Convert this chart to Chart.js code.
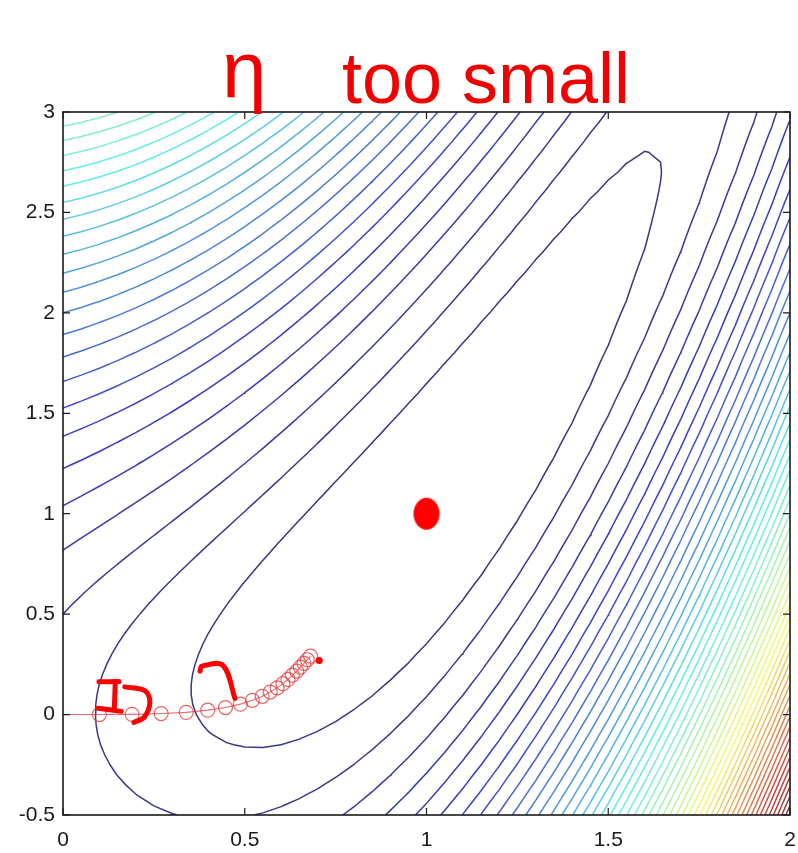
<!DOCTYPE html>
<html>
<head>
<meta charset="utf-8">
<script src="https://cdn.jsdelivr.net/npm/chart.js@4.4.1/dist/chart.umd.min.js"></script>
<style>
  html, body { margin: 0; padding: 0; background: #ffffff; overflow: hidden; }
  #wrap { width: 798px; height: 853px; overflow: hidden; }
  #chart { display: block; }
</style>
</head>
<body>
<div id="wrap"><canvas id="chart" width="798" height="853"></canvas></div>
<script>
// ---- axes ----
const xRange = [0, 2];
const yRange = [-0.5, 3];
const xTicks = [0, 0.5, 1, 1.5, 2];
const yTicks = [-0.5, 0, 0.5, 1, 1.5, 2, 2.5, 3];

// ---- contour levels of the banana surface (evenly spaced) ----
const levels = [0.42, 0.83, 1.25, 1.67, 2.08, 2.5, 2.92, 3.33, 3.75, 4.17,
                4.58, 5, 5.42, 5.83, 6.25, 6.67, 7.08, 7.5, 7.92, 8.33,
                8.75, 9.17, 9.58, 10, 10.42, 10.83, 11.25, 11.67, 12.08, 12.5,
                12.92, 13.33, 13.75, 14.17, 14.58, 15, 15.42, 15.83, 16.25, 16.67,
                17.08, 17.5, 17.92, 18.33, 18.75, 19.17, 19.58, 20, 20.42, 20.83];
const colorRange = [0, 21.25];

// ---- gradient-descent iterates (small step size) ----
const pathX = [0, 0.1, 0.19, 0.27, 0.339, 0.398, 0.447, 0.488, 0.521, 0.548,
               0.570, 0.589, 0.605, 0.619, 0.631, 0.643, 0.653, 0.663, 0.672, 0.681];
const pathY = [0, 0, 0.001, 0.005, 0.011, 0.022, 0.035, 0.052, 0.071, 0.091,
               0.112, 0.133, 0.154, 0.175, 0.196, 0.216, 0.236, 0.255, 0.273, 0.291];

// ---- the minimum ----
const minimumPoint = [1, 1];

// ---- hand-written ink marks near the path ----
const inkStrokes = [
  [[0.099, 0.163], [0.154, 0.165]],
  [[0.144, 0.165], [0.141, 0.029]],
  [[0.096, 0.031], [0.16, 0.016]],
  [[0.17, 0.138], [0.226, 0.118], [0.239, 0.061], [0.223, -0.014], [0.195, -0.039]],
  [[0.377, 0.216], [0.382, 0.241], [0.44, 0.245], [0.473, 0.081]]
];
const inkDot = [0.705, 0.269];

// ---- heading ----
const headingSymbol = 'η';
const headingText = 'too small';

// ---- sampling grid for the surface ----
const gridStep = 0.05;
const gx = [], gy = [];
for (let i = 0; i <= Math.round((xRange[1] - xRange[0]) / gridStep); i++) gx.push(+(xRange[0] + i * gridStep).toFixed(4));
for (let j = 0; j <= Math.round((yRange[1] - yRange[0]) / gridStep); j++) gy.push(+(yRange[0] + j * gridStep).toFixed(4));
const banana = (x, y) => (1 - x) ** 2 + (y - x * x) ** 2;
const Z = gy.map(y => gx.map(x => banana(x, y)));

// marching squares: returns polylines ({x,y} arrays) for one level
function isolines(level) {
  const pts = new Map(), adj = new Map();
  const cross = (key, x0, y0, z0, x1, y1, z1) => {
    if (!pts.has(key)) {
      const t = (level - z0) / (z1 - z0);
      pts.set(key, { x: x0 + t * (x1 - x0), y: y0 + t * (y1 - y0) });
    }
    return key;
  };
  const link = (a, b) => {
    if (!adj.has(a)) adj.set(a, []);
    if (!adj.has(b)) adj.set(b, []);
    adj.get(a).push(b); adj.get(b).push(a);
  };
  for (let j = 0; j < gy.length - 1; j++) {
    for (let i = 0; i < gx.length - 1; i++) {
      const x0 = gx[i], x1 = gx[i + 1], y0 = gy[j], y1 = gy[j + 1];
      const a = Z[j][i], b = Z[j][i + 1], c = Z[j + 1][i + 1], d = Z[j + 1][i];
      const ia = a < level, ib = b < level, ic = c < level, id = d < level;
      const B = ia !== ib ? cross(`h${i},${j}`, x0, y0, a, x1, y0, b) : null;
      const R = ib !== ic ? cross(`v${i + 1},${j}`, x1, y0, b, x1, y1, c) : null;
      const T = id !== ic ? cross(`h${i},${j + 1}`, x0, y1, d, x1, y1, c) : null;
      const L = ia !== id ? cross(`v${i},${j}`, x0, y0, a, x0, y1, d) : null;
      const list = [B, R, T, L].filter(k => k !== null);
      if (list.length === 2) link(list[0], list[1]);
      else if (list.length === 4) {
        const centerLow = (a + b + c + d) / 4 < level;
        if (centerLow === ia) { link(B, R); link(T, L); }
        else { link(B, L); link(T, R); }
      }
    }
  }
  const used = new Set(), lines = [];
  const walk = start => {
    const seq = [start]; used.add(start);
    let cur = start;
    for (;;) {
      const next = (adj.get(cur) || []).find(k => !used.has(k));
      if (next === undefined) break;
      used.add(next); seq.push(next); cur = next;
    }
    if (seq.length > 2 && adj.get(cur).includes(start)) seq.push(start);
    lines.push(seq.map(k => pts.get(k)));
  };
  for (const [k, nb] of adj) if (nb.length === 1 && !used.has(k)) walk(k);
  for (const k of adj.keys()) if (!used.has(k)) walk(k);
  return lines;
}

// jet colour map, slightly muted and lightened for thin lines
function jet(t) {
  const ch = v => 255 * Math.max(0, Math.min(1, v));
  const r = ch(1.5 - Math.abs(4 * t - 3)), g = ch(1.5 - Math.abs(4 * t - 2)), b = ch(1.5 - Math.abs(4 * t - 1));
  const lum = 0.299 * r + 0.587 * g + 0.114 * b;
  const soft = v => lum + (v - lum) * 0.68;
  const light = v => Math.round(soft(v) + (255 - soft(v)) * 0.2);
  return `rgb(${light(r)},${light(g)},${light(b)})`;
}

const datasets = [];
levels.forEach(level => {
  const col = jet((level - colorRange[0]) / (colorRange[1] - colorRange[0]));
  isolines(level).forEach(line => {
    datasets.push({
      data: line, showLine: true, borderColor: col, borderWidth: 1.5,
      pointRadius: 0, tension: 0, order: 10
    });
  });
});

// path with circle markers
datasets.push({
  data: pathX.map((x, i) => ({ x, y: pathY[i] })),
  showLine: true, borderColor: 'rgba(226,60,60,0.75)', borderWidth: 1.1,
  pointRadius: pathX.map((x, i) => (i === 0 ? 0 : 7)),
  pointBorderColor: 'rgba(226,60,60,0.8)', pointBackgroundColor: 'rgba(0,0,0,0)',
  pointBorderWidth: 1.2, tension: 0, order: 3
});

// minimum marker (slightly tall ellipse)
const dotImg = document.createElement('canvas');
dotImg.width = 28; dotImg.height = 34;
{
  const g = dotImg.getContext('2d');
  g.fillStyle = '#ff0000';
  g.beginPath(); g.ellipse(14, 17, 13, 16, 0, 0, Math.PI * 2); g.fill();
}
datasets.push({
  data: [{ x: minimumPoint[0], y: minimumPoint[1] }],
  pointStyle: dotImg, pointRadius: 14, order: 2
});

// ink marks
inkStrokes.forEach(stroke => {
  datasets.push({
    data: stroke.map(([x, y]) => ({ x, y })),
    showLine: true, borderColor: '#ff0000', borderWidth: 5,
    borderCapStyle: 'round', borderJoinStyle: 'round',
    pointRadius: 0, tension: 0.35, order: 1
  });
});
datasets.push({
  data: [{ x: inkDot[0], y: inkDot[1] }],
  pointRadius: 3.5, pointBackgroundColor: '#ff0000', pointBorderWidth: 0, order: 1
});

const labelFont = '21px "Liberation Sans", Arial, sans-serif';

// frame with inward ticks on all four sides, tick labels, heading
const framePlugin = {
  id: 'frame',
  afterDatasetsDraw(chart) {
    const { ctx, chartArea: a, scales } = chart;
    ctx.save();
    ctx.strokeStyle = '#1a1a1a';
    ctx.lineWidth = 1.2;
    const tl = 7;
    ctx.beginPath();
    xTicks.forEach(v => {
      const px = scales.x.getPixelForValue(v);
      ctx.moveTo(px, a.bottom); ctx.lineTo(px, a.bottom - tl);
      ctx.moveTo(px, a.top); ctx.lineTo(px, a.top + tl);
    });
    yTicks.forEach(v => {
      const py = scales.y.getPixelForValue(v);
      ctx.moveTo(a.left, py); ctx.lineTo(a.left + tl, py);
      ctx.moveTo(a.right, py); ctx.lineTo(a.right - tl, py);
    });
    ctx.stroke();
    ctx.lineWidth = 1.6;
    ctx.strokeRect(a.left, a.top, a.right - a.left, a.bottom - a.top);

    ctx.fillStyle = '#1a1a1a';
    ctx.font = labelFont;
    ctx.textAlign = 'center';
    ctx.textBaseline = 'middle';
    xTicks.forEach(v => ctx.fillText(String(v), scales.x.getPixelForValue(v), a.bottom + 25));
    ctx.textAlign = 'right';
    yTicks.forEach(v => ctx.fillText(String(v), a.left - 8, scales.y.getPixelForValue(v)));
    ctx.restore();
  },
  afterDraw(chart) {
    const ctx = chart.ctx;
    ctx.save();
    ctx.fillStyle = '#f00000';
    ctx.textBaseline = 'alphabetic';
    ctx.font = '80px "Liberation Sans"';
    ctx.fillText(headingSymbol, 222, 97);
    ctx.font = '72px "Liberation Sans"';
    ctx.fillText(headingText, 342, 103);
    ctx.restore();
  }
};

new Chart(document.getElementById('chart'), {
  type: 'scatter',
  data: { datasets },
  options: {
    responsive: false,
    animation: false,
    events: [],
    layout: { autoPadding: false, padding: { top: 112, right: 8, left: 0, bottom: 0 } },
    plugins: { legend: { display: false }, tooltip: { enabled: false }, title: { display: false } },
    scales: {
      x: {
        type: 'linear', min: xRange[0], max: xRange[1],
        afterBuildTicks: s => { s.ticks = xTicks.map(value => ({ value })); },
        afterFit: s => { s.height = 38; },
        grid: { display: false, drawTicks: false },
        border: { display: false },
        ticks: { display: false }
      },
      y: {
        type: 'linear', min: yRange[0], max: yRange[1],
        afterBuildTicks: s => { s.ticks = yTicks.map(value => ({ value })); },
        afterFit: s => { s.width = 63; },
        grid: { display: false, drawTicks: false },
        border: { display: false },
        ticks: { display: false }
      }
    }
  },
  plugins: [framePlugin]
});
</script>
</body>
</html>
